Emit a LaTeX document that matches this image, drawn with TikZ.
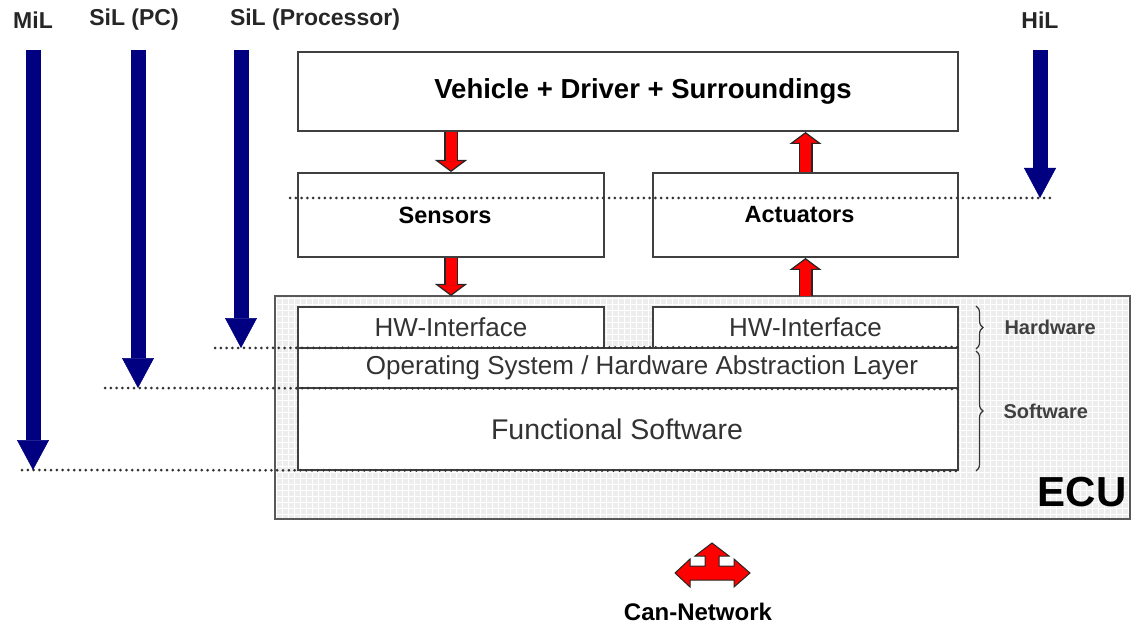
\documentclass[tikz,border=0pt]{standalone}
\usepackage{fontspec}
\setmainfont{Liberation Sans}
\usetikzlibrary{arrows.meta, positioning, decorations.pathreplacing, patterns.meta}

% red block arrow: dark outline first, red core on top
\newcommand\redarrow[2]{\draw[redout] #1 -- #2; \draw[redin] #1 -- #2;}

\begin{document}
\begin{tikzpicture}[x=1pt, y=-1pt,
      box/.style={rectangle, draw=black!75, line width=2pt, fill=white, inner sep=0pt},
      layer/.style={box, font=\fontsize{26}{30}\selectfont, text=black!80},
      ecubox/.style={rectangle, draw=black!65, line width=2pt, preaction={fill=gray!14},
        pattern={Hatch[angle=0, distance=6pt, line width=0.7pt]}, pattern color=white},
      levlabel/.style={font=\bfseries\fontsize{23}{26}\selectfont, text=black!85},
      side/.style={font=\bfseries\fontsize{20}{24}\selectfont, text=black!75, anchor=west},
      blarr/.style={line width=15pt, blue!50!black, -{Triangle[length=30pt, width=32pt, line width=0.5pt]}},
      redout/.style={line width=14pt, black!85, -{Triangle[length=12pt, width=32pt, line width=1.2pt, fill=red]}},
      redin/.style={line width=11pt, red, shorten >=10.5pt},
      dots/.style={line width=3pt, black!80, line cap=round, dash pattern=on 0pt off 5.8pt},
      brc/.style={decorate, decoration={brace, amplitude=7pt}, line width=1.2pt, black!80}]
      \useasboundingbox (0,0) rectangle (1132,628);
      % ECU and its layers
      \node[ecubox, minimum width=855pt, minimum height=223pt, anchor=north west] (ecu) at (275,296) {};
      \node[box, minimum width=660pt, minimum height=79pt, font=\bfseries\fontsize{27.5}{32}\selectfont] (veh) at (628,91.5) {\hspace*{30pt}Vehicle + Driver + Surroundings};
      \node[box, minimum width=306pt, minimum height=84pt, font=\bfseries\fontsize{23.5}{28}\selectfont] (sens) at (451,215) {Sensors\hspace*{12pt}};
      \node[box, minimum width=305pt, minimum height=84pt, font=\bfseries\fontsize{23.5}{28}\selectfont, right=47pt of sens] (act) {Actuators\hspace*{12pt}};
      \node[layer, minimum width=306pt, minimum height=41pt] (hwl) at (451,327.5) {HW-Interface};
      \node[layer, minimum width=305pt, minimum height=41pt, right=47pt of hwl] (hwr) {HW-Interface};
      \node[layer, minimum width=660pt, minimum height=40pt] (os) at (628,368) {\hspace*{28pt}Operating System / Hardware Abstraction Layer};
      \node[layer, minimum width=660pt, minimum height=82pt, font=\fontsize{28.5}{32}\selectfont] (func) at (628,429) {Functional Software\hspace*{22pt}};
      \draw[brc] ([xshift=17pt]hwr.north east) -- ([xshift=17pt]hwr.south east);
      \draw[brc] ([xshift=17pt, yshift=-4pt]os.north east) -- ([xshift=17pt]func.south east);
      \node[side] (hwlab) at (1001,327) {Hardware};
      \node[side] (swlab) at (1000,411) {Software};
      \node[font=\bfseries\fontsize{42}{46}\selectfont] (eculab) at (1082,492) {ECU};
      % test levels
      \node[levlabel] (mil) at (33,20) {MiL};
      \node[levlabel] (silpc) at (134,20) {SiL (PC)};
      \node[levlabel] (silpr) at (315,20) {SiL (Processor)};
      \node[levlabel] (hil) at (1040,20) {HiL};
      \coordinate (miltop) at (33,50);   \coordinate (milend) at (33,470);
      \coordinate (silpctop) at (138,50); \coordinate (silpcend) at (138,388);
      \coordinate (silprtop) at (241,50); \coordinate (silprend) at (241,348);
      \coordinate (hiltop) at (1040,50); \coordinate (hilend) at (1040,198);
      \draw[dots] (22,470) -- (func.south east);
      \draw[dots] (105,388) -- (os.south east);
      \draw[dots] (215,348) -- (os.north east);
      \draw[dots] (290,198) -- (1052,198);
      \draw[blarr] (miltop) -- (milend);
      \draw[blarr] (silpctop) -- (silpcend);
      \draw[blarr] (silprtop) -- (silprend);
      \draw[blarr] (hiltop) -- (hilend);
      % signal flow
      \redarrow{(veh.south -| sens.north)}{(sens.north)}
      \redarrow{(sens.south)}{(ecu.north -| hwl.north)}
      \redarrow{(act.north)}{(veh.south -| act.north)}
      \redarrow{(ecu.north -| hwr.north)}{(act.south)}
      % CAN bus
      \coordinate (can) at (712,573);
      \draw[black!85, fill=red, line width=1pt, line join=miter, shift={(can)}]
        (-37,0) -- (-22,-14) -- (-22,-7) -- (-7,-7) -- (-7,-17) -- (-17,-17) -- (0,-30)
        -- (17,-17) -- (7,-17) -- (7,-7) -- (22,-7) -- (22,-14) -- (38,0)
        -- (22,14) -- (22,7) -- (-22,7) -- (-22,14) -- cycle;
      \node[font=\bfseries\fontsize{24}{28}\selectfont] (canlab) at (698,612) {Can-Network};
    \end{tikzpicture}
\end{document}
